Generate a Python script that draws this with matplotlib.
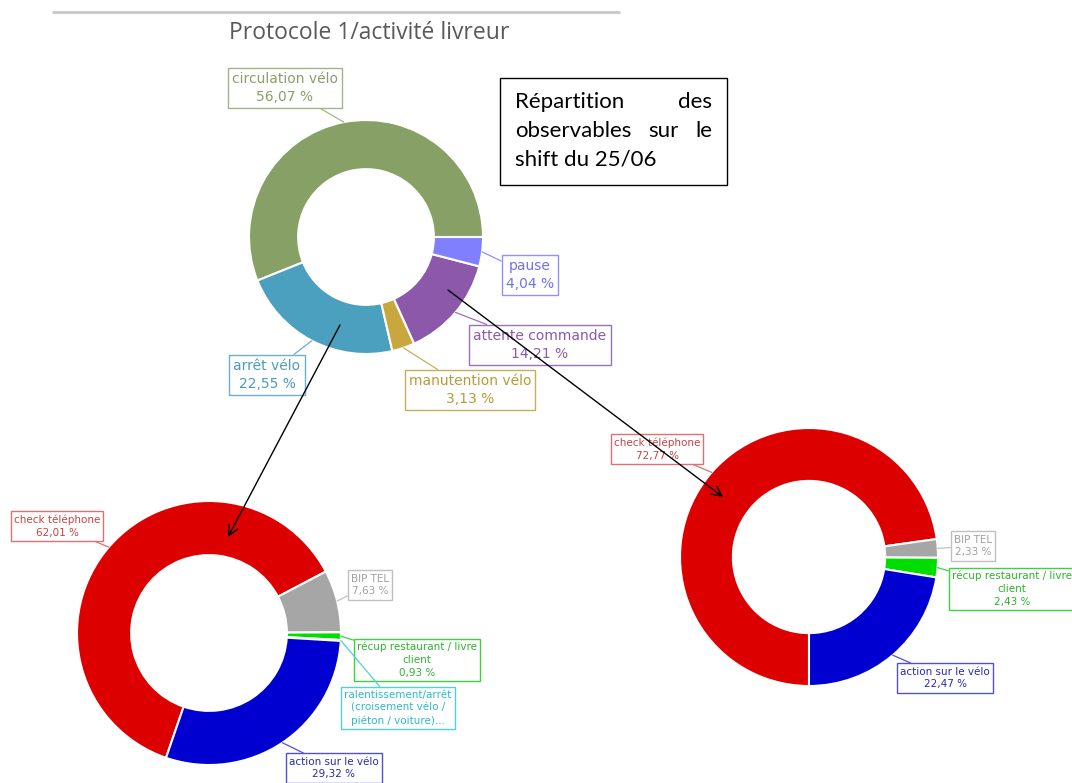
import matplotlib
matplotlib.use('Agg')
import matplotlib.pyplot as plt
import numpy as np

W, H = 1072, 783

# ---------------- data ----------------
title = "Protocole 1/activité livreur"
note_lines = ["Répartition des", "observables sur le", "shift du 25/06"]

main_labels = ["circulation vélo", "arrêt vélo", "manutention vélo", "attente commande", "pause"]
main_values = [56.07, 22.55, 3.13, 14.21, 4.04]

arret_labels = ["check téléphone", "BIP TEL", "récup restaurant / livre\nclient",
                "ralentissement/arrêt\n(croisement vélo /\npiéton / voiture)...", "action sur le vélo"]
arret_values = [62.01, 7.63, 0.93, 0.11, 29.32]
arret_show_pct = [True, True, True, False, True]

attente_labels = ["check téléphone", "BIP TEL", "récup restaurant / livre\nclient", "action sur le vélo"]
attente_values = [72.77, 2.33, 2.43, 22.47]
attente_show_pct = [True, True, True, True]

# ---------------- styles ----------------
main_colors = ["#87A066", "#4BA0BF", "#C8A83E", "#8B58AA", "#8080FF"]
main_text = ["#8C9E68", "#4A9CBC", "#B89A3A", "#8B58AA", "#7070F0"]
main_edge = ["#A4B48A", "#6DB0CB", "#C8AC5A", "#9A70B8", "#9090FF"]
main_boxes = [(285, 88), (267, 375), (470, 390), (540, 345), (530, 275)]

sub_colors_a = ["#DD0000", "#A6A6A6", "#00DD00", "#33CCCC", "#0000D0"]
sub_text_a = ["#C84040", "#A0A0A0", "#30B030", "#30B8C8", "#2828B8"]
sub_edge_a = ["#E07070", "#C0C0C0", "#40D040", "#50D0D8", "#5050D0"]
arret_boxes = [(57, 526), (370, 585), (417, 660), (398, 708), (334, 768)]

sub_colors_b = ["#DD0000", "#A6A6A6", "#00DD00", "#0000D0"]
sub_text_b = ["#C84040", "#A0A0A0", "#30B030", "#2828B8"]
sub_edge_b = ["#E07070", "#C0C0C0", "#40D040", "#5050D0"]
attente_boxes = [(657, 449), (973, 546), (1012, 589), (945, 678)]

fig = plt.figure(figsize=(W / 100, H / 100), dpi=100)
fig.patch.set_facecolor("white")


def pct(v):
    return f"{v:.2f}".replace(".", ",") + " %"


def donut(cx, cy, r, values, labels, colors, tcolors, ecolors, boxes, width,
          startangle, counterclock, fs, show=None, lw_edge=1.5):
    ax = fig.add_axes([(cx - r) / W, 1 - (cy + r) / H, 2 * r / W, 2 * r / H])
    wedges, _ = ax.pie(values, colors=colors, startangle=startangle,
                       counterclock=counterclock, radius=1,
                       wedgeprops=dict(width=width, edgecolor="white", linewidth=lw_edge))
    ax.set_xlim(-1, 1)
    ax.set_ylim(-1, 1)
    ax.set_aspect("equal")
    ax.axis("off")
    for i, w in enumerate(wedges):
        mid = np.deg2rad((w.theta1 + w.theta2) / 2)
        txt = labels[i]
        if show is None or show[i]:
            txt = txt + "\n" + pct(values[i])
        bx, by = boxes[i]
        ax.annotate(txt, xy=(np.cos(mid), np.sin(mid)), xycoords="data",
                    xytext=(bx, H - by), textcoords="figure pixels",
                    ha="center", va="center", multialignment="center",
                    color=tcolors[i], fontsize=fs, linespacing=1.35,
                    bbox=dict(boxstyle="square,pad=0.3", fc="white", ec=ecolors[i], lw=1),
                    arrowprops=dict(arrowstyle="-", color=ecolors[i], lw=0.9,
                                    shrinkA=0, shrinkB=0),
                    annotation_clip=False, zorder=5)
    return ax


donut(366, 237, 117, main_values, main_labels, main_colors, main_text, main_edge,
      main_boxes, 0.42, 0, True, 10)
donut(209, 633, 132, arret_values, arret_labels, sub_colors_a, sub_text_a, sub_edge_a,
      arret_boxes, 0.41, 251, False, 7.5, arret_show_pct)
donut(809, 557, 129, attente_values, attente_labels, sub_colors_b, sub_text_b, sub_edge_b,
      attente_boxes, 0.41, 270, False, 7.5, attente_show_pct)

# overlay for title, note box and arrows
ov = fig.add_axes([0, 0, 1, 1])
ov.set_xlim(0, W)
ov.set_ylim(H, 0)
ov.axis("off")
ov.patch.set_alpha(0)

ov.plot([52, 620], [12, 12], color="#C8C8C8", lw=2, solid_capstyle="butt")
ov.text(369, 33, title, ha="center", va="center", fontsize=16.5, color="#595959",
        family="Open Sans")

ov.add_patch(plt.Rectangle((500, 78), 227, 107, fill=False, ec="black", lw=1))

# justified note text
renderer = fig.canvas.get_renderer()
x_left, x_right = 515, 712
line_y = [102, 131, 160]
for li, line in enumerate(note_lines):
    words = line.split(" ")
    last = li == len(note_lines) - 1
    if last or len(words) == 1:
        ov.text(x_left, line_y[li], line, ha="left", va="center", fontsize=16, family="Lato")
        continue
    texts = [ov.text(0, line_y[li], w, ha="left", va="center", fontsize=16, family="Lato")
             for w in words]
    widths = [t.get_window_extent(renderer).width for t in texts]
    gap = (x_right - x_left - sum(widths)) / (len(words) - 1)
    x = x_left
    for t, wd in zip(texts, widths):
        t.set_x(x)
        x += wd + gap

ov.annotate("", xy=(228, 537), xytext=(340, 325),
            arrowprops=dict(arrowstyle="->", color="black", lw=1, mutation_scale=18,
                            shrinkA=0, shrinkB=0))
ov.annotate("", xy=(723, 497), xytext=(448, 290),
            arrowprops=dict(arrowstyle="->", color="black", lw=1, mutation_scale=18,
                            shrinkA=0, shrinkB=0))

fig.savefig("out.png", dpi=100)
